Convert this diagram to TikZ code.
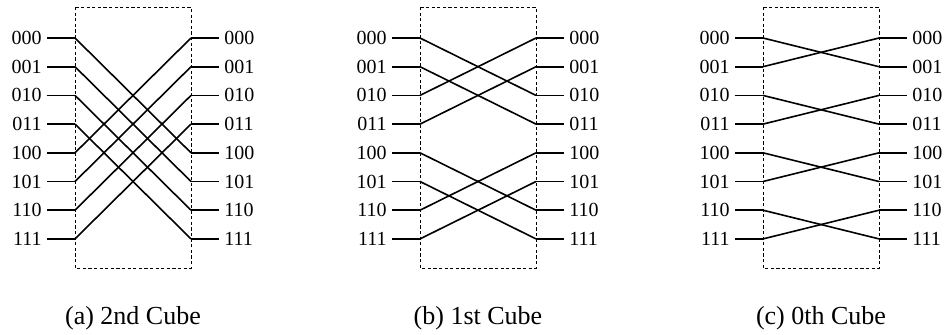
\documentclass[tikz,border=0pt]{standalone}
\usepackage{fontspec}
\setmainfont{Liberation Serif}
\usepackage{tikz}
\usetikzlibrary{calc}
\tikzstyle{wire} = [draw,line width=0.8pt]
\tikzstyle{frame} = [draw,line width=0.45pt,dash pattern=on 1.6pt off 1.2pt]
\tikzstyle{lbl} = [inner sep=2.5pt,font=\fontsize{10}{12}\selectfont]
\tikzstyle{caption} = [font=\fontsize{13}{15}\selectfont]

\begin{document}
\begin{tikzpicture}[x=0.5pt,y=-0.5pt]
\useasboundingbox (0,0) rectangle (948,334);

% one panel per cube dimension: name / box left / flipped bit / caption
\foreach \p/\x/\b/\cap in {a/75/4/{(a) 2nd Cube},b/420/2/{(b) 1st Cube},c/763/1/{(c) 0th Cube}}{
  \draw[frame] (\x,7) rectangle (\x+116,268);
  \node[caption] (cap-\p) at (\x+58,318) {\cap};

  % ports and their stubs
  \foreach \i/\t in {0/000,1/001,2/010,3/011,4/100,5/101,6/110,7/111}{
    \pgfmathsetmacro\y{38+28.7*\i}
    \coordinate (\p-l\i) at (\x,\y);
    \coordinate (\p-r\i) at (\x+116,\y);
    \node[lbl,anchor=east] (\p-in\i) at (\x-28,\y) {\t};
    \node[lbl,anchor=west] (\p-out\i) at (\x+144,\y) {\t};
    \draw[wire] (\p-in\i.east) -- (\p-l\i);
    \draw[wire] (\p-r\i) -- (\p-out\i.west);
  }

  % exchange: i goes to i xor b
  \foreach \i in {0,...,7}{
    \pgfmathtruncatemacro\j{\i+\b*(1-2*mod(floor(\i/\b),2))}
    \draw[wire] (\p-l\i) -- (\p-r\j);
  }
}

\end{tikzpicture}
\end{document}
